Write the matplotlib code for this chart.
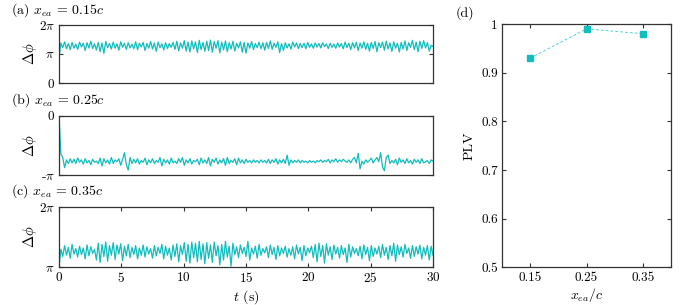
import matplotlib
matplotlib.use("Agg")
import matplotlib.pyplot as plt
import numpy as np

plt.rcParams['font.family'] = 'serif'
plt.rcParams['font.serif'] = ['cmr10', 'DejaVu Serif']
plt.rcParams['mathtext.fontset'] = 'cm'
plt.rcParams['axes.formatter.use_mathtext'] = True

dt = 0.15
phase_a = [
    0.86, 1.38, 1.22, 1.42, 1.18, 1.36, 1.15, 1.40, 1.20, 1.34,
    1.16, 1.41, 1.24, 1.37, 1.12, 1.39, 1.21, 1.44, 1.19, 1.35,
    1.14, 1.40, 1.08, 1.38, 1.02, 1.43, 1.22, 1.36, 1.17, 1.41,
    1.20, 1.35, 1.13, 1.42, 1.23, 1.37, 1.16, 1.39, 1.21, 1.34,
    1.18, 1.42, 1.15, 1.37, 1.24, 1.40, 1.12, 1.36, 1.20, 1.43,
    1.17, 1.38, 1.09, 1.41, 1.22, 1.35, 1.14, 1.39, 1.19, 1.36,
    1.23, 1.40, 1.16, 1.44, 1.11, 1.38, 1.20, 1.46, 1.10, 1.41,
    1.07, 1.45, 1.18, 1.42, 1.05, 1.47, 1.15, 1.40, 1.09, 1.44,
    1.12, 1.48, 1.06, 1.43, 1.20, 1.46, 1.04, 1.41, 1.14, 1.45,
    1.08, 1.39, 1.17, 1.44, 1.10, 1.37, 1.21, 1.42, 1.06, 1.40,
    1.03, 1.38, 1.20, 1.43, 1.15, 1.36, 1.22, 1.41, 1.18, 1.39,
    1.13, 1.40, 1.19, 1.45, 1.16, 1.37, 1.23, 1.42, 1.05, 1.36,
    1.12, 1.39, 1.21, 1.35, 1.17, 1.41, 1.24, 1.38, 1.19, 1.36,
    1.22, 1.37, 1.18, 1.40, 1.23, 1.35, 1.20, 1.38, 1.24, 1.36,
    1.21, 1.39, 1.25, 1.35, 1.19, 1.37, 1.23, 1.34, 1.20, 1.38,
    1.24, 1.36, 1.18, 1.41, 1.22, 1.37, 1.15, 1.39, 1.21, 1.40,
    1.12, 1.38, 1.20, 1.42, 1.16, 1.37, 1.10, 1.40, 1.19, 1.43,
    1.08, 1.39, 1.22, 1.41, 1.13, 1.44, 1.18, 1.38, 1.09, 1.42,
    1.20, 1.37, 1.07, 1.40, 1.17, 1.45, 1.12, 1.39, 1.23, 1.47,
    1.15, 1.41, 1.08, 1.44, 1.19, 1.46, 1.21, 1.39, 1.10, 1.30,
    1.26,
]
phase_b = [
    0.00, -0.64, -0.70, -0.87, -0.74, -0.80, -0.72, -0.79, -0.73, -0.80,
    -0.71, -0.78, -0.74, -0.81, -0.72, -0.79, -0.75, -0.82, -0.73, -0.78,
    -0.76, -0.80, -0.71, -0.84, -0.72, -0.79, -0.74, -0.81, -0.70, -0.80,
    -0.74, -0.77, -0.72, -0.83, -0.73, -0.62, -0.82, -0.91, -0.70, -0.80,
    -0.73, -0.79, -0.72, -0.81, -0.75, -0.78, -0.71, -0.82, -0.74, -0.79,
    -0.72, -0.80, -0.75, -0.78, -0.70, -0.84, -0.73, -0.79, -0.74, -0.81,
    -0.71, -0.79, -0.76, -0.80, -0.72, -0.78, -0.70, -0.83, -0.74, -0.79,
    -0.72, -0.81, -0.75, -0.77, -0.73, -0.82, -0.71, -0.79, -0.74, -0.80,
    -0.70, -0.84, -0.73, -0.78, -0.71, -0.81, -0.74, -0.79, -0.72, -0.83,
    -0.70, -0.80, -0.75, -0.78, -0.72, -0.82, -0.71, -0.79, -0.74, -0.80,
    -0.73, -0.78, -0.75, -0.79, -0.74, -0.78, -0.75, -0.79, -0.74, -0.78,
    -0.75, -0.79, -0.73, -0.80, -0.74, -0.78, -0.72, -0.81, -0.74, -0.79,
    -0.73, -0.80, -0.66, -0.83, -0.74, -0.79, -0.75, -0.78, -0.74, -0.79,
    -0.75, -0.78, -0.76, -0.79, -0.75, -0.78, -0.76, -0.79, -0.75, -0.77,
    -0.74, -0.78, -0.75, -0.77, -0.73, -0.79, -0.74, -0.77, -0.72, -0.78,
    -0.74, -0.77, -0.73, -0.76, -0.78, -0.74, -0.79, -0.73, -0.70, -0.79,
    -0.63, -0.89, -0.76, -0.81, -0.74, -0.78, -0.75, -0.71, -0.79, -0.74,
    -0.70, -0.77, -0.62, -0.86, -0.92, -0.70, -0.66, -0.80, -0.75, -0.79,
    -0.73, -0.82, -0.71, -0.78, -0.74, -0.80, -0.72, -0.79, -0.75, -0.81,
    -0.73, -0.78, -0.74, -0.80, -0.72, -0.79, -0.77, -0.75, -0.80, -0.74,
    -0.76,
]
phase_c = [
    1.00, 1.30, 1.18, 1.36, 1.20, 1.33, 1.15, 1.38, 1.22, 1.31,
    1.17, 1.35, 1.21, 1.32, 1.14, 1.37, 1.19, 1.34, 1.23, 1.30,
    1.12, 1.40, 1.08, 1.38, 1.18, 1.42, 1.10, 1.36, 1.20, 1.41,
    1.13, 1.37, 1.22, 1.39, 1.11, 1.35, 1.19, 1.38, 1.16, 1.33,
    1.21, 1.36, 1.14, 1.32, 1.20, 1.37, 1.17, 1.34, 1.22, 1.31,
    1.15, 1.36, 1.19, 1.33, 1.23, 1.38, 1.14, 1.35, 1.20, 1.32,
    1.12, 1.37, 1.18, 1.39, 1.09, 1.36, 1.21, 1.41, 1.10, 1.38,
    1.07, 1.42, 1.16, 1.40, 1.09, 1.43, 1.13, 1.39, 1.06, 1.41,
    1.15, 1.37, 1.08, 1.42, 1.19, 1.36, 1.04, 1.38, 1.12, 1.43,
    1.17, 1.35, 1.02, 1.40, 1.21, 1.34, 1.16, 1.37, 1.23, 1.33,
    1.18, 1.43, 1.12, 1.32, 1.22, 1.35, 1.15, 1.38, 1.20, 1.31,
    1.24, 1.34, 1.16, 1.37, 1.21, 1.33, 1.13, 1.36, 1.19, 1.32,
    1.23, 1.35, 1.17, 1.31, 1.20, 1.34, 1.14, 1.37, 1.22, 1.33,
    1.11, 1.36, 1.19, 1.32, 1.24, 1.35, 1.16, 1.38, 1.09, 1.40,
    1.18, 1.36, 1.07, 1.39, 1.20, 1.34, 1.13, 1.37, 1.22, 1.33,
    1.15, 1.36, 1.21, 1.32, 1.08, 1.38, 1.17, 1.34, 1.23, 1.31,
    1.19, 1.35, 1.14, 1.37, 1.21, 1.33, 1.11, 1.36, 1.18, 1.32,
    1.22, 1.35, 1.16, 1.38, 1.20, 1.33, 1.13, 1.36, 1.19, 1.40,
    1.10, 1.37, 1.21, 1.34, 1.17, 1.38, 1.23, 1.32, 1.15, 1.36,
    1.18, 1.34, 1.22, 1.37, 1.14, 1.33, 1.20, 1.36, 1.12, 1.35,
    1.20,
]

# panel (d)
x_ea = [0.15, 0.25, 0.35]
plv = [0.93, 0.99, 0.98]

titles = [r'(a) $x_{ea}\,=\,0.15c$', r'(b) $x_{ea}\,=\,0.25c$', r'(c) $x_{ea}\,=\,0.35c$']

color = '#12BDBD'
frame = '#333333'
W, H = 692, 305


def px_axes(fig, left, top, right, bottom):
    return fig.add_axes([left / W, 1 - bottom / H, (right - left) / W, (bottom - top) / H])


def style(ax):
    for s in ax.spines.values():
        s.set_color(frame)
        s.set_linewidth(0.9)
    ax.tick_params(direction='in', top=True, right=True, length=3,
                   width=0.8, color=frame, labelsize=9.5, pad=3)


fig = plt.figure(figsize=(W / 100, H / 100), dpi=100)

boxes = [(59, 25, 433, 83), (59, 115.5, 433, 175.5), (59, 207, 433, 267.3)]
series = [phase_a, phase_b, phase_c]
ylims = [(0, 2), (-1, 0), (1, 2)]
yticks = [([0, 1, 2], ['$0$', r'$\pi$', r'$2\pi$']),
          ([-1, 0], [r'$\text{-}\pi$', '$0$']),
          ([1, 2], [r'$\pi$', r'$2\pi$'])]
title_y = [10, 100, 191]

for i in range(3):
    ax = px_axes(fig, *boxes[i])
    vals = np.array(series[i]) * np.pi
    t = np.arange(len(vals)) * dt
    ax.plot(t, vals, color=color, lw=0.9)
    ax.set_xlim(0, 30)
    ax.set_ylim(ylims[i][0] * np.pi, ylims[i][1] * np.pi)
    ax.set_yticks(np.array(yticks[i][0]) * np.pi)
    ax.set_yticklabels(yticks[i][1])
    style(ax)
    if i < 2:
        ax.set_xticks([])
    else:
        ax.set_xticks([0, 5, 10, 15, 20, 25, 30])
        ax.set_xlabel('$t$ (s)', fontsize=10, labelpad=2)
    fig.text(30 / W, 1 - (boxes[i][1] + boxes[i][3]) / 2 / H, r'$\Delta\phi$',
             rotation=90, ha='center', va='center', fontsize=10.5)
    fig.text(11 / W, 1 - title_y[i] / H, titles[i], ha='left', va='center', fontsize=10)

axd = px_axes(fig, 502, 24, 671, 267.3)
axd.plot(x_ea, plv, color=color, lw=0.7, ls=(0, (3, 2)), alpha=0.7)
axd.plot(x_ea, plv, ls='none', marker='s', ms=5, color=color)
axd.set_xlim(0.1, 0.4)
axd.set_ylim(0.5, 1.0)
axd.set_xticks(x_ea)
axd.set_xticklabels(['0.15', '0.25', '0.35'])
axd.set_yticks([0.5, 0.6, 0.7, 0.8, 0.9, 1.0])
axd.set_yticklabels(['0.5', '0.6', '0.7', '0.8', '0.9', '1'])
style(axd)
axd.set_xlabel(r'$x_{ea}/c$', fontsize=10, labelpad=2)
axd.set_ylabel('PLV', fontsize=10, labelpad=4)
fig.text(456 / W, 1 - 13 / H, '(d)', ha='left', va='center', fontsize=10)

fig.savefig('out.png', dpi=100)
